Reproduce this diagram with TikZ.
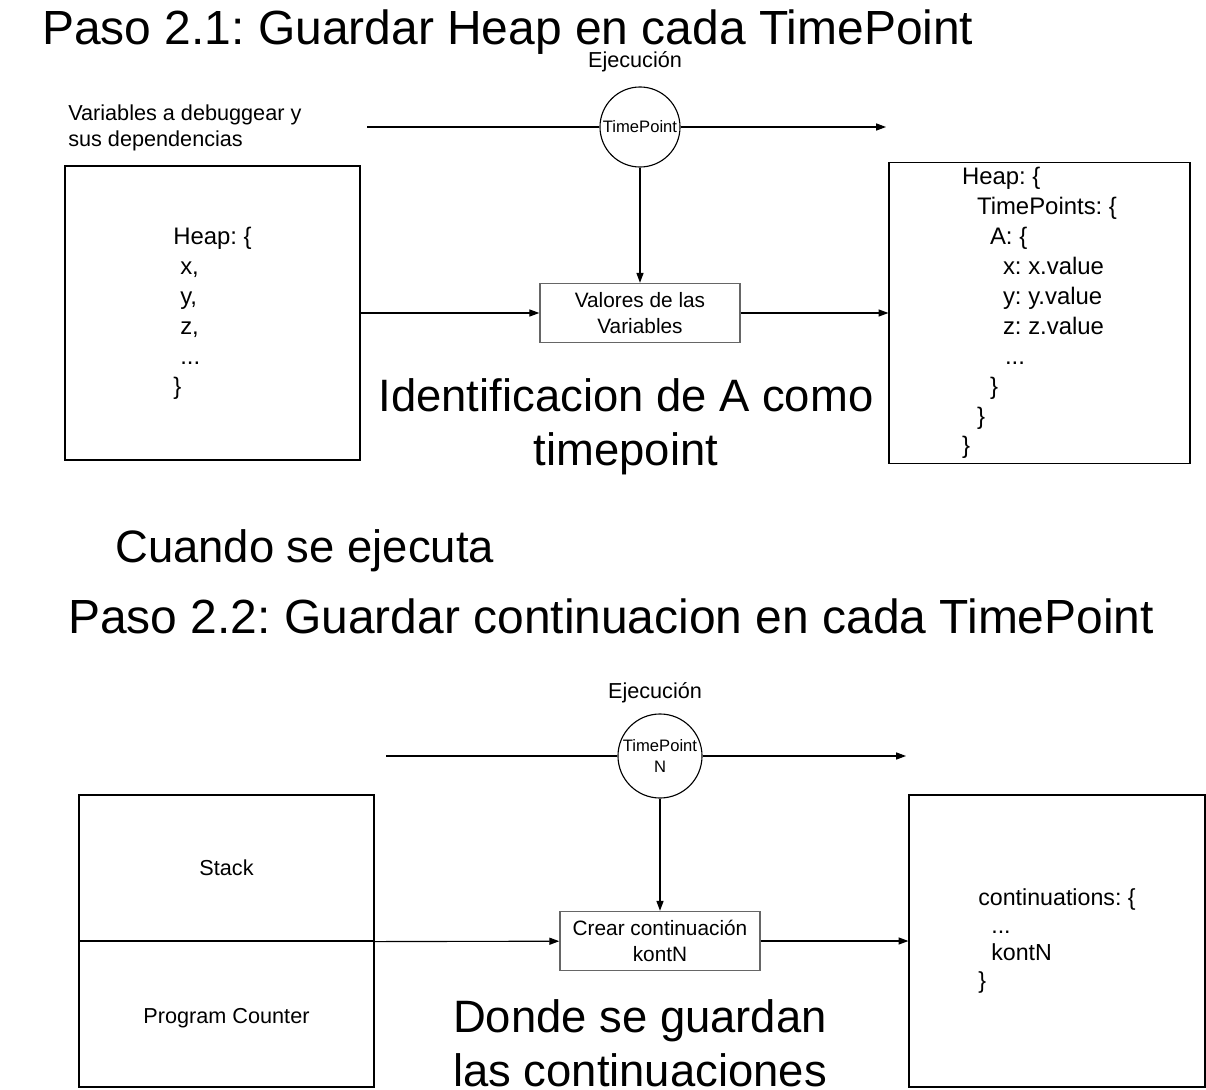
\documentclass[tikz,border=0pt]{standalone}
\usepackage{fontspec}
\setmainfont{Liberation Sans}
\frenchspacing
\usetikzlibrary{arrows.meta}

\tikzset{
    arr/.style={-{Triangle[length=7pt,width=5pt]},line width=0.8pt},
    bigbox/.style={rectangle,draw,line width=0.8pt,inner sep=0pt},
    opbox/.style={rectangle,draw=black!60,line width=1pt,inner sep=0pt,minimum width=5cm,minimum height=1.475cm,align=center,font=\fontsize{14.8}{18}\selectfont},
    tpoint/.style={circle,draw,line width=0.8pt,inner sep=0pt,align=center,font=\fontsize{11.8}{14.9}\selectfont},
    titletxt/.style={inner sep=0pt,font=\fontsize{34.1}{40}\selectfont},
    bigtxt/.style={inner sep=0pt,align=center,font=\fontsize{32.3}{38.3}\selectfont},
    smalltxt/.style={font=\fontsize{15.4}{18.4}\selectfont},
    codetxt/.style={align=left,font=\fontsize{17}{21.3}\selectfont}
}

\begin{document}
\begin{tikzpicture}[x=0.025cm,y=-0.025cm]
    \useasboundingbox (0,0) rectangle (1206,1090);
    % Paso 2.1
    \node[titletxt,anchor=base west] (title1) at (42,45) {Paso 2.1: Guardar Heap en cada TimePoint};
    \node[smalltxt,inner sep=0pt,anchor=base] (ejec1) at (635,68) {Ejecución};
    \node[smalltxt,anchor=north west,align=left,inner sep=0pt] (vars) at (68,105) {Variables a debuggear y\\sus dependencias};
    \coordinate (ex1a) at (367,127);\coordinate (ex1b) at (886,127);
    \node[tpoint,minimum size=2cm] (tp1) at (640,127) {TimePoint};
    \node[bigbox,codetxt,minimum width=7.375cm,minimum height=7.35cm] (heap1) at (212.5,313) {Heap: \{\\\hspace*{0.175cm}x,\\\hspace*{0.175cm}y,\\\hspace*{0.175cm}z,\\\hspace*{0.175cm}...\\\}};
    \node[opbox] (vals) at (640,313) {Valores de las\\Variables};
    \node[bigbox,codetxt,minimum width=7.525cm,minimum height=7.525cm] (heap2) at (1039.5,313) {Heap: \{\\\hspace*{0.375cm}TimePoints: \{\\\hspace*{0.7cm}A: \{\\\hspace*{1.025cm}x: x.value\\\hspace*{1.025cm}y: y.value\\\hspace*{1.025cm}z: z.value\\\hspace*{1.075cm}...\\\hspace*{0.7cm}\}\\\hspace*{0.375cm}\}\\\}};
    \node[bigtxt] (ident) at (626,426.5) {Identificacion de A como\\timepoint};
    \draw[arr] (ex1a) -- (tp1) -- (ex1b);
    \draw[arr] (tp1) -- (vals);
    \draw[arr] (heap1) -- (vals);
    \draw[arr] (vals) -- (heap2);
    \node[bigtxt,anchor=base west] (cuando) at (115,562) {Cuando se ejecuta};
    % Paso 2.2
    \node[titletxt,anchor=base west] (title2) at (68,633) {Paso 2.2: Guardar continuacion en cada TimePoint};
    \node[smalltxt,inner sep=0pt,anchor=base] (ejec2) at (655,698) {Ejecución};
    \coordinate (ex2a) at (386,756);\coordinate (ex2b) at (906,756);
    \node[tpoint,minimum size=2.1cm] (tp2) at (660,756) {TimePoint\\N};
    \node[bigbox,smalltxt,minimum width=7.375cm,minimum height=3.65cm] (stack) at (226.5,868) {Stack};
    \node[bigbox,smalltxt,minimum width=7.375cm,minimum height=3.65cm,text height=14pt,text depth=0pt] (pc) at (226.5,1014) {Program Counter};
    \node[opbox] (kont) at (660,941) {Crear continuación\\kontN};
    \node[bigbox,codetxt,minimum width=7.4cm,minimum height=7.3cm,font=\fontsize{16.5}{19.5}\selectfont] (conts) at (1057,941) {continuations: \{\\\hspace*{0.325cm}...\\\hspace*{0.325cm}kontN\\\}};
    \node[bigtxt] (donde) at (640,1043) {Donde se guardan\\las continuaciones};
    \draw[arr] (ex2a) -- (tp2) -- (ex2b);
    \draw[arr] (tp2) -- (kont);
    \draw[arr] (stack.south east) -- (kont);
    \draw[arr] (kont) -- (conts);
\end{tikzpicture}
\end{document}
